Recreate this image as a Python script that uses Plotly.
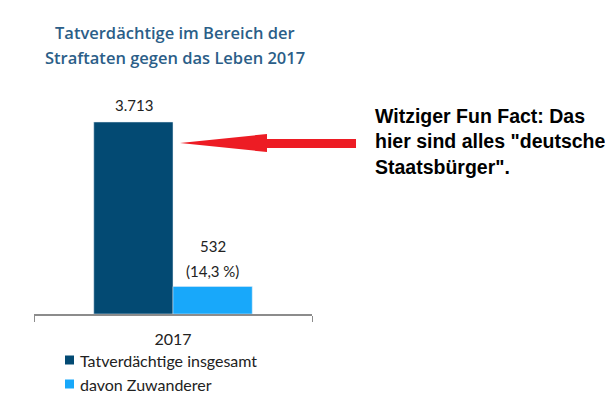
import plotly.graph_objects as go

categories = ["2017"]
series_names = ["Tatverdächtige insgesamt", "davon Zuwanderer"]
total_values = [3713]
migrant_values = [532]
total_labels = ["3.713"]
migrant_labels = ["532<br>(14,3 %)"]
colors = ["#034a73", "#18a8fa"]
title_text = "Tatverdächtige im Bereich der<br>Straftaten gegen das Leben 2017"
note_text = "Witziger Fun Fact: Das<br>hier sind alles \"deutsche<br>Staatsbürger\"."

OFF = 8  # default page body margin
W, H = 613 - OFF, 413 - OFF
# plot area, in page pixels
PL, PR, PT, PB = 34, 312, 80, 314

def px(x):
    return (x - PL) / (PR - PL)

def py(y):
    return (PB - y) / (PB - PT)

fig = go.Figure()
fig.add_bar(x=categories, y=total_values, name=series_names[0], marker_color=colors[0])
fig.add_bar(x=categories, y=migrant_values, name=series_names[1], marker_color=colors[1])

lbl_font = dict(family="Lato", size=15, color="#222")
annotations = []
LINE = 25
for labels, values, xs, gap in ((total_labels, total_values, -39.5, 17),
                                (migrant_labels, migrant_values, 39.5, 15)):
    for i, (v, t) in enumerate(zip(values, labels)):
        parts = t.split("<br>")
        for k, part in enumerate(parts):
            annotations.append(dict(x=i, y=v, text=part, xref="x", yref="y", xshift=xs,
                                    yshift=gap + (len(parts) - 1 - k) * LINE,
                                    yanchor="middle", showarrow=False, font=lbl_font))

# title as two lines with the reference's wider spacing
for k, part in enumerate(title_text.split("<br>")):
    annotations.append(dict(text=part, x=px(174.5), y=py(32 + 26 * k), xref="paper",
                            yref="paper", xanchor="center", yanchor="middle",
                            showarrow=False,
                            font=dict(family="Open Sans", size=16.5, color="#2b5e88",
                                      weight=600)))

annotations.append(dict(text=note_text, x=px(373), y=py(103), xref="paper", yref="paper",
                        xanchor="left", yanchor="top", align="left", showarrow=False,
                        font=dict(family="Liberation Sans", size=19.5, color="black",
                                  weight="bold")))

shapes = []
leg_y = [360, 384]
for name, c, yy in zip(series_names, colors, leg_y):
    shapes.append(dict(type="rect", xref="paper", yref="paper",
                       x0=px(65), x1=px(74), y0=py(yy - 4.5), y1=py(yy + 4.5),
                       fillcolor=c, line=dict(width=0)))
    annotations.append(dict(text=name, x=px(78), y=py(yy), xref="paper", yref="paper",
                            xanchor="left", yanchor="middle", showarrow=False,
                            font=dict(family="Lato", size=16, color="#222")))

arrow_pts = [(180, 143), (267, 134), (267, 139), (356, 139), (356, 148), (267, 148), (267, 152)]
path = "M " + " L ".join(f"{px(x):.4f},{py(y):.4f}" for x, y in arrow_pts) + " Z"
shapes.append(dict(type="path", path=path, xref="paper", yref="paper",
                   fillcolor="#ed1c24", line=dict(width=0)))

fig.update_layout(
    width=W, height=H,
    margin=dict(l=PL - OFF, r=W - (PR - OFF), t=PT - OFF, b=H - (PB - OFF), pad=0,
                autoexpand=False),
    paper_bgcolor="white", plot_bgcolor="white",
    barmode="group", bargap=0.43, bargroupgap=0,
    showlegend=False,
    xaxis=dict(type="category", range=[-0.5, 0.5], showline=True, linecolor="#8c8c8c",
               linewidth=1.5, ticks="outside", tickson="boundaries", ticklen=6,
               tickcolor="#8c8c8c", tickangle=0, ticklabelstandoff=10,
               tickfont=dict(family="Lato", size=16, color="#222"), showgrid=False),
    yaxis=dict(range=[0, 3713 * (PB - PT) / 192], visible=False, showgrid=False),
    shapes=shapes,
    annotations=annotations,
)

fig.write_html("out.html")
